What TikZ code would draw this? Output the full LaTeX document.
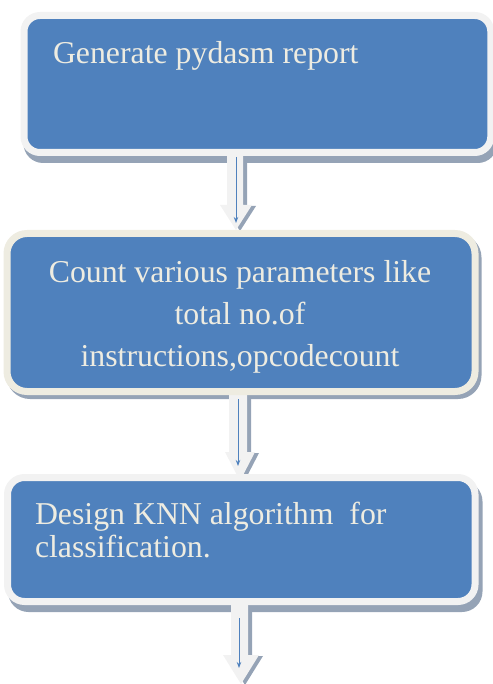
\documentclass[tikz,border=0pt]{standalone}
\usepackage{fontspec}
\setmainfont{Liberation Serif}
\newfontfamily\boxfont{Liberation Serif}
\usetikzlibrary{backgrounds,arrows.meta}
\definecolor{boxblue}{HTML}{4F81BD}
\definecolor{creamc}{HTML}{EEECE1}
\definecolor{lightc}{HTML}{F2F2F2}
\definecolor{shadowc}{HTML}{95A3B6}
\tikzset{
  box/.style={fill=boxblue, line width=7pt, inner sep=0pt},
  lbl/.style={text=creamc, inner sep=0pt, outer sep=0pt},
  bodyfill/.style={fill=lightc},
  shadefill/.style={fill=shadowc},
  conn/.style={draw=boxblue, line width=1pt, -{Stealth[length=6pt,width=4.5pt]}}
}
\begin{document}
\begin{tikzpicture}[x=1pt,y=-1pt]
\useasboundingbox (0,0) rectangle (492,684);
% boxes
\node[box, draw=lightc, rounded corners=16pt, minimum width=466.8pt, minimum height=137pt] (b1) at (257.4,84) {};
\node[box, draw=creamc, rounded corners=20pt, minimum width=468pt, minimum height=158pt] (b2) at (241,312.5) {};
\node[box, draw=lightc, rounded corners=17pt, minimum width=467.5pt, minimum height=124pt] (b3) at (241.25,539.5) {};
% texts
\node[lbl, anchor=base west, font=\boxfont\fontsize{31.8}{38}\selectfont] (t1) at (53,63.3) {Generate pydasm report};
\node[lbl, anchor=base, text width=460pt, align=flush center, font=\boxfont\fontsize{31.8}{42}\selectfont] (t2) at (240,282.7) {Count various parameters like\\ total no.of\\ instructions,opcodecount};
\node[lbl, anchor=base west, text width=440pt, align=flush left, font=\boxfont\fontsize{31.8}{33.5}\selectfont] (t3) at (35,524) {Design KNN algorithm\ \ for\\ classification.};
% connector end points
\coordinate (c1s) at (236,157); \coordinate (c1e) at (236,223);
\coordinate (c2s) at (238,399); \coordinate (c2e) at (238,466);
\coordinate (c3s) at (239,618); \coordinate (c3e) at (239,668);
\begin{scope}[on background layer]
  \fill[shadefill, rounded corners=19.5pt] ([shift={(3pt,-7pt)}]b1.north west) rectangle ([shift={(3pt,-7pt)}]b1.south east);
  \fill[shadefill, rounded corners=23.5pt] ([shift={(3pt,-4pt)}]b2.north west) rectangle ([shift={(3pt,-4pt)}]b2.south east);
  \fill[shadefill, rounded corners=20.5pt] ([shift={(4pt,-7pt)}]b3.north west) rectangle ([shift={(4pt,-7pt)}]b3.south east);
  \foreach \xl/\xr/\yo/\yh/\hl/\hr/\xc/\yt in {227/243/150/205/220/252/236/230, 229/247/392/452/225/255/240/481, 231/248/600/655/223/259/241/684} {
    \fill[shadefill] (\xl+4,\yo) -- (\xr+4,\yo) -- (\xr+4,\yh+1) -- (\hr+4,\yh+1) -- (\xc+4,\yt+1) -- (\hl+4,\yh+1) -- (\xl+4,\yh+1) -- cycle;
    \fill[bodyfill] (\xl,\yo) -- (\xr,\yo) -- (\xr,\yh) -- (\hr,\yh) -- (\xc,\yt) -- (\hl,\yh) -- (\xl,\yh) -- cycle;
  }
  \draw[conn] (c1s) -- (c1e);
  \draw[conn] (c2s) -- (c2e);
  \draw[conn] (c3s) -- (c3e);
\end{scope}
\end{tikzpicture}
\end{document}
